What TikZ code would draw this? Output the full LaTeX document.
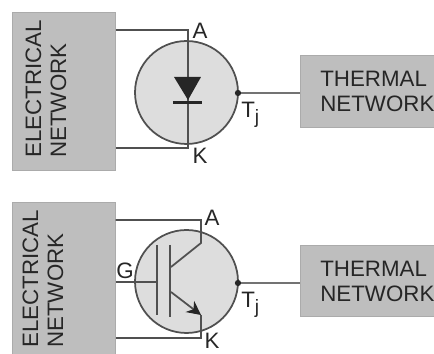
\documentclass[tikz,border=0pt]{standalone}
\usepackage{fontspec}
\setmainfont{Liberation Sans}
\usetikzlibrary{arrows.meta}
\definecolor{boxgray}{HTML}{BEBEBE}
\definecolor{diskgray}{HTML}{DDDDDD}
\definecolor{wiregray}{HTML}{505050}
\definecolor{inkgray}{HTML}{262626}
\tikzset{
  netbox/.style={fill=boxgray,draw=boxgray!90!black,line width=0.3pt,inner sep=0pt,anchor=north west},
  disk/.style={circle,fill=diskgray,draw=wiregray,line width=1pt,minimum size=2.06cm,inner sep=0pt},
  wire/.style={draw=wiregray,line width=1pt},
  bar/.style={draw=wiregray,line width=1pt},
  txt/.style={text=inkgray,font=\fontsize{12.7}{14.2}\selectfont,inner sep=0pt},
  junction/.style={circle,fill=black!85,inner sep=0pt,minimum size=0.125cm}
}
\newcommand{\tjlabel}{T\raisebox{-0.5ex}{\fontsize{11}{11}\selectfont j}}
\begin{document}
\begin{tikzpicture}[x=0.02cm,y=-0.02cm,>={Stealth[length=0.28cm,width=0.28cm,color=black!85]}]
\useasboundingbox (0,0) rectangle (434,354);
% diode
\node[netbox,minimum width=2.06cm,minimum height=3.16cm] (elecA) at (12,12) {};
\node[netbox,minimum width=2.68cm,minimum height=1.44cm] (thermA) at (300,55) {};
\node[disk] (diskA) at (186.5,92.5) {};
\node[txt,rotate=90,anchor=west,align=left] (elecAtxt) at (46,158) {ELECTRICAL\\NETWORK};
\node[txt,anchor=west,align=left] (thermAtxt) at (320,91) {THERMAL\\NETWORK};
\coordinate (anodeA) at (188,30);
\coordinate (cathA) at (188,148);
\draw[wire] (elecA.east |- anodeA) -- (anodeA) -- (cathA) -- (elecA.east |- cathA);
\coordinate (triL) at (174,77);
\coordinate (triR) at (201,77);
\coordinate (triB) at (188,100);
\fill[black!85] (triL) -- (triR) -- (triB) -- cycle;
\coordinate (barL) at (173,102.5);
\coordinate (barR) at (202,102.5);
\draw[black!85,line width=2pt] (barL) -- (barR);
\node[junction] (tjA) at (238,93) {};
\draw[wire,draw=wiregray!80] (tjA) -- (thermA.west |- tjA);
\node[txt] (labA) at (200,31) {A};
\node[txt] (labK) at (200,156) {K};
\node[txt,anchor=north west] (labTA) at (241,102) {\tjlabel};

% igbt
\node[netbox,minimum width=2.06cm,minimum height=3.04cm] (elecB) at (12,202) {};
\node[netbox,minimum width=2.68cm,minimum height=1.42cm] (thermB) at (300,245) {};
\node[disk] (diskB) at (186.5,281.5) {};
\node[txt,rotate=90,anchor=west,align=left] (elecBtxt) at (43,348) {ELECTRICAL\\NETWORK};
\node[txt,anchor=west,align=left] (thermBtxt) at (320,281) {THERMAL\\NETWORK};
\coordinate (anodeB) at (201,220);
\coordinate (collB) at (201,243);
\coordinate (chanC) at (171,267);
\coordinate (chanE) at (171,292);
\coordinate (emitB) at (201,315);
\coordinate (cathB) at (201,338);
\coordinate (gateB) at (157,282);
\draw[wire] (elecB.east |- anodeB) -- (anodeB) -- (collB) -- (chanC);
\draw[wire,->] (chanE) -- (emitB);
\draw[wire] (emitB) -- (cathB) -- (elecB.east |- cathB);
\draw[wire] (elecB.east |- gateB) -- (gateB);
\coordinate (gbarT) at (157,245);
\coordinate (gbarB) at (157,315);
\coordinate (cbarT) at (170,245);
\coordinate (cbarB) at (170,317);
\draw[bar] (gbarT) -- (gbarB);
\draw[bar] (cbarT) -- (cbarB);
\node[junction] (tjB) at (238,283) {};
\draw[wire,draw=wiregray!80] (tjB) -- (thermB.west |- tjB);
\node[txt] (labAB) at (212,218) {A};
\node[txt] (labKB) at (212,341) {K};
\node[txt] (labG) at (125,271) {G};
\node[txt,anchor=north west] (labTB) at (241,292) {\tjlabel};
\end{tikzpicture}
\end{document}
